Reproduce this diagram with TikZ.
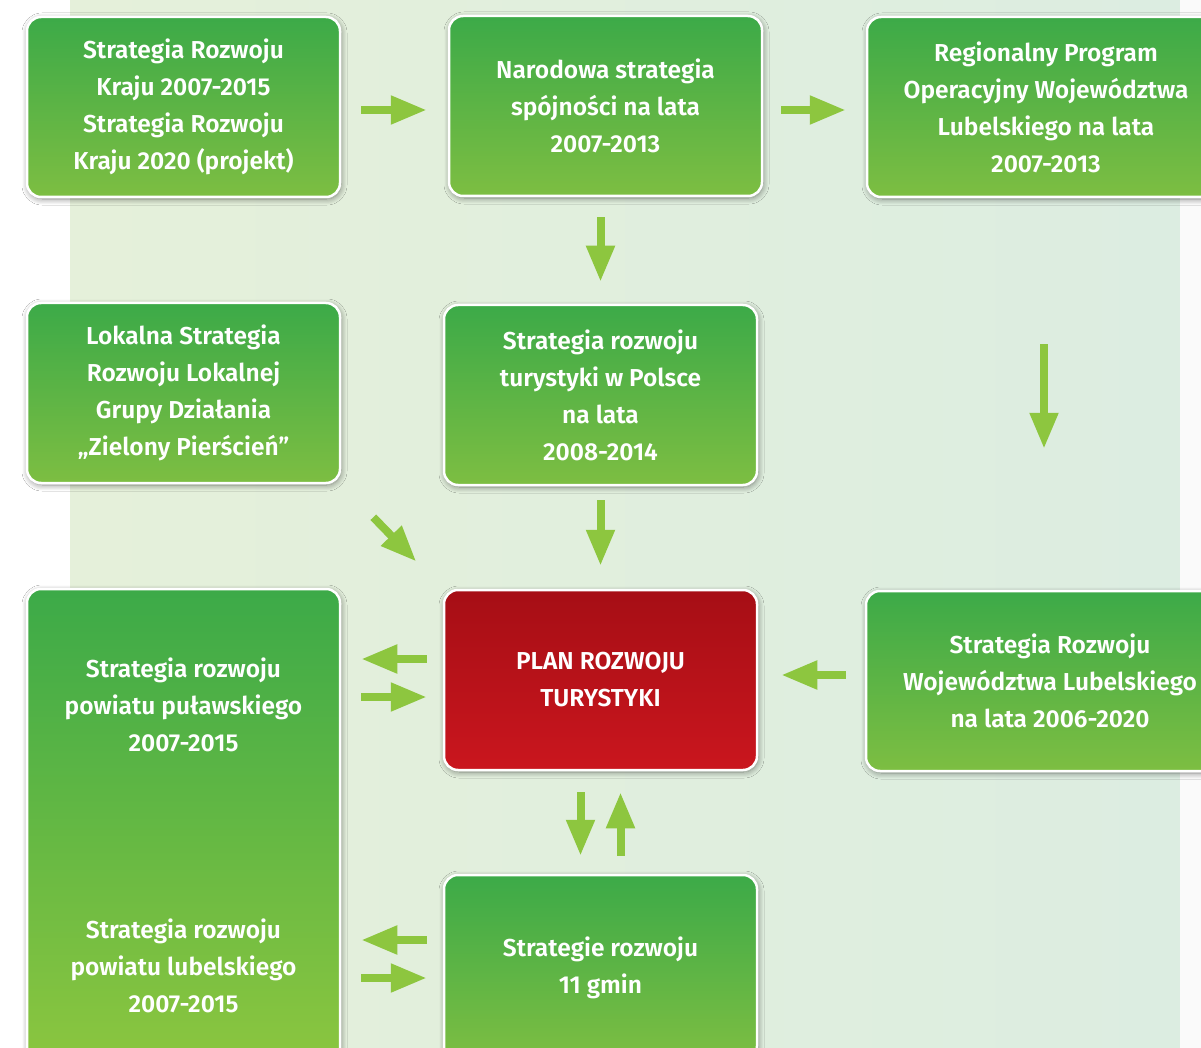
\documentclass[tikz,border=0pt]{standalone}
\usepackage{fontspec}
\setmainfont{Fira Sans}[UprightFont=* SemiBold, BoldFont=* Bold]
\usetikzlibrary{arrows.meta,shadows.blur,calc}
\definecolor{arrowgreen}{RGB}{141,198,63}
\definecolor{gtop}{RGB}{60,170,72}
\definecolor{gbot}{RGB}{125,190,66}
\definecolor{gbotlong}{RGB}{140,198,63}
\definecolor{rtop}{RGB}{166,14,21}
\definecolor{rbot}{RGB}{202,22,30}
\definecolor{panelL}{RGB}{229,240,218}
\definecolor{panelR}{RGB}{220,237,225}
\tikzset{
  boxbase/.style={draw=white, line width=2.5pt, rounded corners=14pt,
    blur shadow={shadow xshift=1pt, shadow yshift=-2pt, shadow blur radius=6pt, shadow blur steps=12, shadow opacity=45},
    text=white, align=center, inner sep=0pt,
    font=\fontsize{24.5}{37}\selectfont},
  gbox/.style={boxbase, top color=gtop, bottom color=gbot,
    minimum width=313pt, minimum height=180pt},
  rbox/.style={boxbase, top color=rtop, bottom color=rbot,
    minimum width=313pt, minimum height=180pt},
  lbl/.style={text=white, align=center, inner sep=0pt, font=\fontsize{24.5}{37}\selectfont},
  arr/.style={draw=arrowgreen, line width=8pt, -{Triangle[length=36pt,width=27pt]}}
}
\begin{document}
\begin{tikzpicture}[x=1pt,y=-1pt]
\useasboundingbox (0,0) rectangle (1201,1048);
\fill[white] (0,0) rectangle (1201,1048);
\shade[left color=panelL, right color=panelR] (70,-5) rectangle (1180,1053);
\fill[black!2] (1180,-5) rectangle (1206,1053);

\node[gbox] (A) at (183.5,107) {Strategia Rozwoju\\Kraju 2007-2015\\Strategia Rozwoju\\Kraju 2020 (projekt)};
\node[gbox] (B) at (605.5,106) {Narodowa strategia\\spójności na lata\\2007-2013};
\node[gbox, minimum width=358pt] (C) at (1046,107) {Regionalny Program\\Operacyjny Województwa\\Lubelskiego na lata\\2007-2013};
\node[gbox] (D) at (183.5,393) {Lokalna Strategia\\Rozwoju Lokalnej\\Grupy Działania\\„Zielony Pierścień”};
\node[gbox] (E) at (600.5,395) {Strategia rozwoju\\turystyki w Polsce\\na lata\\2008-2014};
\node[rbox] (F) at (600.5,680) {PLAN ROZWOJU\\TURYSTYKI};
\node[gbox, minimum width=368pt] (G) at (1050,681) {Strategia Rozwoju\\Województwa Lubelskiego\\na lata 2006-2020};
\node[gbox, minimum height=476pt, bottom color=gbotlong] (H) at (183.5,827) {};
\node[lbl] (H1) at (183.5,705) {Strategia rozwoju\\powiatu puławskiego\\2007-2015};
\node[lbl] (H2) at (183.5,966) {Strategia rozwoju\\powiatu lubelskiego\\2007-2015};
\node[gbox, minimum height=185pt] (I) at (600.5,967.5) {Strategie rozwoju\\11 gmin};

\draw[arr, shorten <=20pt, shorten >=21pt] ([yshift=-3pt]A.east) -- ([yshift=-3pt]A.east -| B.west);
\draw[arr, shorten <=18pt, shorten >=20pt] ([yshift=-4pt]B.east) -- ([yshift=-4pt]B.east -| C.west);
\draw[arr, shorten <=20pt, shorten >=22pt] (E.north |- B.south) -- (E.north);
\draw[arr, shorten <=146pt, shorten >=141pt] ([xshift=-2pt]C.south) -- ([xshift=-2pt]C.south |- G.north);
\draw[arr, shorten <=46pt, shorten >=38pt] (D.south east) -- (F.north west);
\draw[arr, shorten <=14pt, shorten >=23pt] (E.south) -- (F.north);
\draw[arr, shorten <=16pt, shorten >=20pt] ([yshift=21pt]F.west) -- ([yshift=21pt]F.west -| H.east);
\draw[arr, shorten <=20pt, shorten >=16pt] ([yshift=-17pt]F.west -| H.east) -- ([yshift=-17pt]F.west);
\draw[arr, shorten <=19pt, shorten >=23pt] ([yshift=5pt]F.east -| G.west) -- ([yshift=5pt]F.east);
\draw[arr, shorten <=21pt, shorten >=18pt] ([xshift=-20pt]F.south) -- ([xshift=-20pt]F.south |- I.north);
\draw[arr, shorten <=18pt, shorten >=21pt] ([xshift=20pt]F.south |- I.north) -- ([xshift=20pt]F.south);
\draw[arr, shorten <=16pt, shorten >=20pt] ([yshift=27.5pt]I.west) -- ([yshift=27.5pt]I.west -| H.east);
\draw[arr, shorten <=20pt, shorten >=16pt] ([yshift=-10.5pt]I.west -| H.east) -- ([yshift=-10.5pt]I.west);
\end{tikzpicture}
\end{document}
